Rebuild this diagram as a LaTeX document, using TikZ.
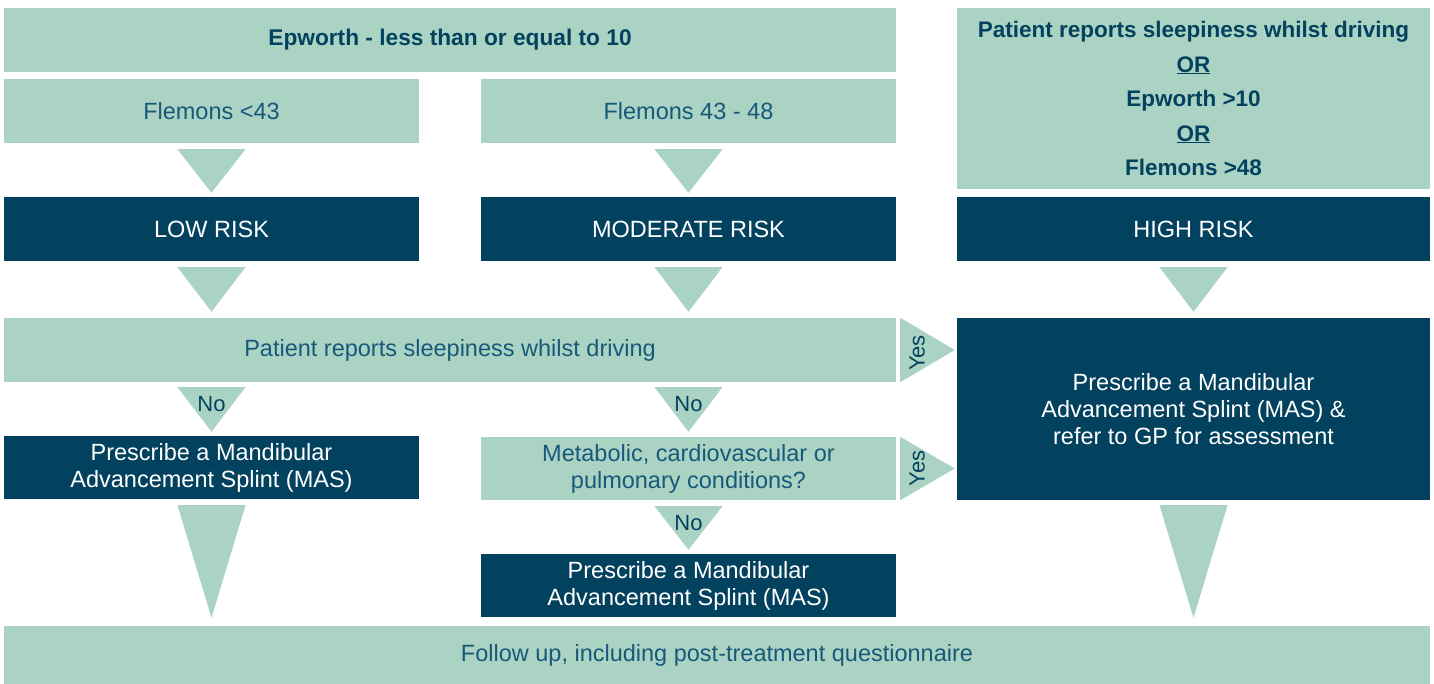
\documentclass[tikz,border=0pt]{standalone}
\usepackage{fontspec}
\setmainfont{Liberation Sans}
\usetikzlibrary{calc}
\definecolor{mint}{HTML}{ABD3C3}
\definecolor{navy}{HTML}{03425F}
\definecolor{inkblue}{HTML}{17597A}
\tikzset{
  box/.style={inner sep=0pt, align=center, font=\fontsize{23.5}{27}\selectfont},
  lightbox/.style={box, fill=mint, text=inkblue},
  darkbox/.style={box, fill=navy, text=white},
  tri/.style={fill=mint},
  tag/.style={text=navy, font=\fontsize{22}{26}\selectfont, inner sep=0pt}
}
\begin{document}
\begin{tikzpicture}[x=1pt, y=-1pt]
\useasboundingbox (0,0) rectangle (1434,684);
% first row
\node [lightbox, minimum width=892, minimum height=64, text=navy, font=\fontsize{22.7}{27}\selectfont\bfseries] (epw) at (450,40) {Epworth - less than or equal to 10};
\node [lightbox, minimum width=415, minimum height=64] (flemA) at (211.5,111) {Flemons <43};
\node [lightbox, minimum width=415, minimum height=64] (flemB) at (688.5,111) {Flemons 43 - 48};
\node [lightbox, minimum width=473, minimum height=181, text=navy, font=\fontsize{22.5}{34.5}\selectfont\bfseries] (crit) at (1193.5,98.5)
  {Patient reports sleepiness whilst driving\\ \underline{OR}\\ Epworth >10\\ \underline{OR}\\ Flemons >48};
% risk levels
\node [darkbox, minimum width=415, minimum height=64] (low) at (211.5,229) {LOW RISK};
\node [darkbox, minimum width=415, minimum height=64] (mod) at (688.5,229) {MODERATE RISK};
\node [darkbox, minimum width=473, minimum height=64] (high) at (1193.5,229) {HIGH RISK};
% questions and outcomes
\node [lightbox, minimum width=892, minimum height=64] (sleepy) at (450,350) {Patient reports sleepiness whilst driving};
\node [darkbox, minimum width=473, minimum height=182] (masgp) at (1193.5,409)
  {Prescribe a Mandibular\\ Advancement Splint (MAS) \&\\ refer to GP for assessment};
\node [darkbox, minimum width=415, minimum height=63] (presA) at (211.5,467.5) {Prescribe a Mandibular\\ Advancement Splint (MAS)};
\node [lightbox, minimum width=415, minimum height=63] (metab) at (688.5,468.5) {Metabolic, cardiovascular or\\ pulmonary conditions?};
\node [darkbox, minimum width=415, minimum height=63] (presB) at (688.5,585.5) {Prescribe a Mandibular\\ Advancement Splint (MAS)};
\node [lightbox, minimum width=1426, minimum height=58] (follow) at (717,655) {Follow up, including post-treatment questionnaire};

% down arrows
\fill [tri] ($(flemA.south)+(-34,6)$) -- ($(flemA.south)+(34,6)$) -- ($(low.north)+(0,-4)$) -- cycle;
\fill [tri] ($(flemB.south)+(-34,6)$) -- ($(flemB.south)+(34,6)$) -- ($(mod.north)+(0,-4)$) -- cycle;
\fill [tri] ($(low.south)+(-34,6)$) -- ($(low.south)+(34,6)$) -- ($(sleepy.north -| low)+(0,-6)$) -- cycle;
\fill [tri] ($(mod.south)+(-34,6)$) -- ($(mod.south)+(34,6)$) -- ($(sleepy.north -| mod)+(0,-6)$) -- cycle;
\fill [tri] ($(high.south)+(-34,6)$) -- ($(high.south)+(34,6)$) -- ($(masgp.north)+(0,-6)$) -- cycle;
\fill [tri] ($(sleepy.south -| presA)+(-34,5)$) -- ($(sleepy.south -| presA)+(34,5)$) -- ($(presA.north)+(0,-4)$) -- cycle;
\fill [tri] ($(sleepy.south -| metab)+(-34,5)$) -- ($(sleepy.south -| metab)+(34,5)$) -- ($(metab.north)+(0,-5)$) -- cycle;
\fill [tri] ($(metab.south)+(-34,6)$) -- ($(metab.south)+(34,6)$) -- ($(presB.north)+(0,-4)$) -- cycle;
\fill [tri] ($(presA.south)+(-34,6)$) -- ($(presA.south)+(34,6)$) -- ($(follow.north -| presA)+(0,-8)$) -- cycle;
\fill [tri] ($(masgp.south)+(-34,5)$) -- ($(masgp.south)+(34,5)$) -- ($(follow.north -| masgp)+(0,-8)$) -- cycle;
% yes arrows
\fill [tri] ($(sleepy.north east)+(4,0)$) -- ($(sleepy.south east)+(4,0)$) -- ($(sleepy.east -| masgp.west)+(-2,0)$) -- cycle;
\fill [tri] ($(metab.north east)+(4,0)$) -- ($(metab.south east)+(4,0)$) -- ($(metab.east -| masgp.west)+(-2,0)$) -- cycle;

% labels on arrows
\node [tag] (noA) at ($(presA.north)+(0,-32)$) {No};
\node [tag] (noB) at ($(metab.north)+(0,-33)$) {No};
\node [tag] (noC) at ($(presB.north)+(0,-31)$) {No};
\node [tag, rotate=90] (yesA) at ($(sleepy.east)+(21,3)$) {Yes};
\node [tag, rotate=90] (yesB) at ($(metab.east)+(21,0)$) {Yes};
\end{tikzpicture}
\end{document}
